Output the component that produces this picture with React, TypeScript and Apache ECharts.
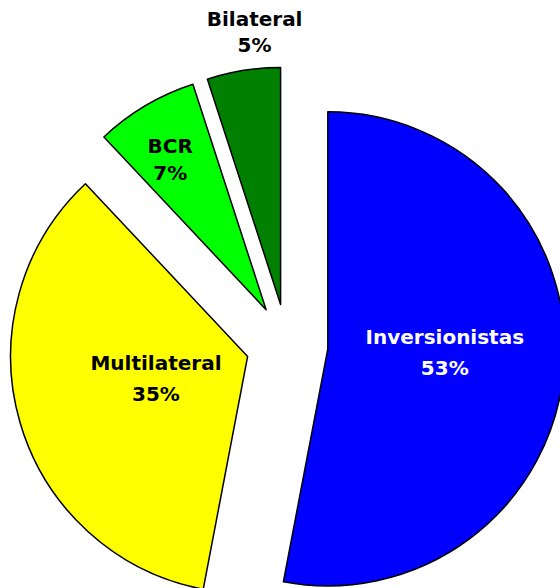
import React, { useEffect, useRef } from "react";
import * as echarts from "echarts";

const categories = ["Inversionistas", "Multilateral", "BCR", "Bilateral"];
const shares = [53, 35, 7, 5];
const sliceColors = ["#0000FF", "#FFFF00", "#00FF00", "#008000"];
const labelColors = ["#FFFFFF", "#000000", "#000000", "#000000"];
const labelLineHeights = [31, 31, 27, 26];
const labelShifts = [
  [-4, -8],
  [25, -12],
  [-34, -46],
  [-7, -153],
];

export default function App() {
  const ref = useRef<HTMLDivElement>(null);
  useEffect(() => {
    if (!ref.current) return;
    const chart = echarts.init(ref.current, null, { renderer: "svg" });
    chart.setOption({
      animation: false,
      backgroundColor: "#FFFFFF",
      series: [
        {
          type: "pie",
          center: [287, 345],
          radius: 237,
          startAngle: 90,
          clockwise: true,
          avoidLabelOverlap: false,
          selectedMode: "multiple",
          selectedOffset: 41,
          silent: true,
          itemStyle: { borderColor: "#000000", borderWidth: 1.5 },
          label: {
            show: true,
            position: "inside",
            formatter: "{b}\n{c}%",
            fontFamily: "DejaVu Sans",
            fontWeight: "bold",
            fontSize: 20,
            align: "center",
            verticalAlign: "middle",
          },
          labelLine: { show: false },
          labelLayout: (params: any) => {
            const s = labelShifts[params.dataIndex];
            return { dx: s[0], dy: s[1] };
          },
          emphasis: { disabled: true },
          data: categories.map((name, i) => ({
            name,
            value: shares[i],
            selected: true,
            itemStyle: { color: sliceColors[i] },
            label: { color: labelColors[i], lineHeight: labelLineHeights[i] },
          })),
        },
      ],
    });
    return () => chart.dispose();
  }, []);
  return (
    <div
      ref={ref}
      style={{ position: "fixed", left: 0, top: 0, width: 560, height: 588 }}
    />
  );
}
